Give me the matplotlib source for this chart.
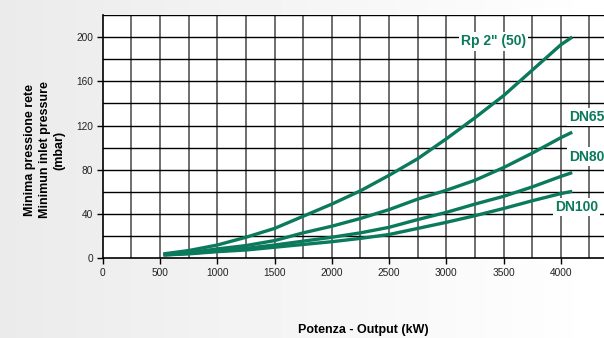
import matplotlib.pyplot as plt
import numpy as np

plt.rcParams['font.family'] = ['Liberation Sans', 'DejaVu Sans']

# Burner output (kW) and minimum inlet pressure (mbar) per gas train size
output_kw = [530, 750, 1000, 1250, 1500, 1750, 2000, 2250, 2500, 2750, 3000, 3250, 3500, 3750, 4000, 4100]
rp2 = [4, 7, 12, 19, 27, 38, 49, 61, 75, 90, 108, 127, 147, 170, 193, 200]
dn65 = [3.5, 5, 8.5, 11.5, 16, 23, 29, 36, 44, 53.5, 61.5, 70.5, 82, 95, 109, 114]
dn80 = [3, 4.5, 6.5, 9, 12, 15.5, 19, 23, 28, 35, 41.5, 49, 56, 64.5, 74, 77.5]
dn100 = [3, 4, 6, 7.5, 10, 12.5, 15, 18, 21.5, 27, 32.5, 38.5, 45, 52, 58.5, 60.5]

series = [("Rp 2\" (50)", rp2), ("DN65", dn65), ("DN80", dn80), ("DN100", dn100)]
label_pos = [(3410, 196), (4225, 128), (4225, 92), (4135, 46)]

green = "#0b7a5c"

fig = plt.figure(figsize=(6.04, 3.38), dpi=100)
fig.patch.set_facecolor("white")

# soft grey shading towards the left edge of the sheet
grad = np.linspace(0.92, 1.0, 200)[None, :]
bg = fig.add_axes([0, 0, 1, 1], zorder=-5)
bg.imshow(np.tile(grad, (50, 1)), cmap="gray", vmin=0, vmax=1,
          aspect="auto", extent=[0, 1, 0, 1])
bg.axis("off")

ax = fig.add_axes([0.1702, 0.2358, 0.853, 0.72])
ax.set_xlim(0, 4500)
ax.set_ylim(0, 220)

for x in np.arange(250, 4500, 250):
    ax.axvline(x, color="#6e6e6e", lw=1.4, zorder=1)
for y in np.arange(20, 221, 20):
    ax.axhline(y, color="black", lw=1.0, zorder=1)

for (name, vals), (lx, ly) in zip(series, label_pos):
    ax.plot(output_kw, vals, color=green, lw=2.4, solid_capstyle="butt",
            solid_joinstyle="round", zorder=3)
    ax.text(lx, ly, name, color=green, fontsize=10, fontweight="bold",
            ha="center", va="center", zorder=4,
            bbox=dict(facecolor="white", edgecolor="none", pad=1.5))

ax.set_xticks(np.arange(0, 4001, 500))
ax.set_yticks(np.arange(0, 201, 40))
ax.tick_params(labelsize=7.3, length=4, width=1, colors="black", labelcolor="#222222", pad=3)
for side in ["top", "right"]:
    ax.spines[side].set_visible(False)
for side in ["left", "bottom"]:
    ax.spines[side].set_linewidth(1.2)

fig.text(363 / 604, 8 / 338, "Potenza - Output (kW)", fontsize=9, fontweight="bold",
         ha="center", va="center")
fig.text(45 / 604, 1 - 150 / 338, "Minima pressione rete\nMinimun inlet pressure\n(mbar)",
         fontsize=9, fontweight="bold", rotation=90, ha="center", va="center",
         multialignment="center", linespacing=1.3)

fig.savefig("out.png", dpi=100)
